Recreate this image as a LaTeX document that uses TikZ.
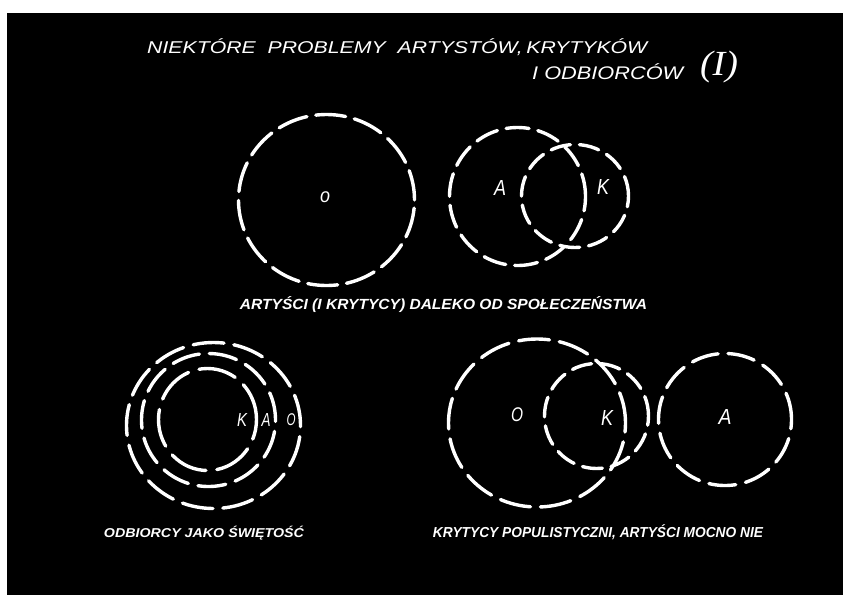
\documentclass[tikz,border=0pt]{standalone}
\usepackage{fontspec}
\setmainfont{Liberation Sans}
\newfontfamily\romanhand{Liberation Serif}
\usetikzlibrary{shapes.geometric}
\tikzset{
  ring/.style={draw=white, line width=3.4pt, line cap=round, ellipse, inner sep=0pt, dash pattern=#1},
  ring/.default={on 27pt off 10pt},
  lbl/.style={text=white, inner sep=0pt},
  handtxt/.style={text=white, inner sep=0pt, font=\itshape}
}
\begin{document}
\begin{tikzpicture}[x=1pt,y=-1pt]
\useasboundingbox (0,0) rectangle (843,595);
\fill[white] (0,0) rectangle (843,595);
\fill[black] (7,12.5) rectangle (843,595);

% title
\node[handtxt, anchor=base west] (t1) at (147,53) {\resizebox*{500pt}{17pt}{\itshape NIEKTÓRE\ \ PROBLEMY\ \ ARTYSTÓW,\,KRYTYKÓW}};
\node[handtxt, anchor=base west] (t2) at (532,79) {\resizebox*{151pt}{16pt}{\itshape I ODBIORCÓW}};
\node[handtxt] (t3) at (719,67) {\resizebox*{38pt}{32pt}{\romanhand\itshape (I)}};

% top left
\node[ring={on 30pt off 9pt}, minimum width=176pt, minimum height=171pt] (oTop) at (326.5,200) {};
\node[lbl] (oTopL) at (325,197) {\resizebox*{10pt}{11pt}{\itshape o}};

% top right
\node[ring={on 23pt off 9pt}, minimum width=136pt, minimum height=138pt] (aTop) at (517.5,196.5) {};
\node[ring={on 20pt off 9pt}, minimum width=107pt, minimum height=103pt] (kTop) at (575,196) {};
\node[lbl] (aTopL) at (500,188) {\resizebox*{12pt}{15pt}{\itshape A}};
\node[lbl] (kTopL) at (603,187) {\resizebox*{12pt}{15pt}{\itshape K}};

\node[handtxt] (c1) at (443.5,305) {\resizebox*{407pt}{16pt}{\bfseries\itshape ARTYŚCI (I KRYTYCY) DALEKO OD SPOŁECZEŃSTWA}};

% bottom left concentric
\node[ring={on 31pt off 10pt}, minimum width=174pt, minimum height=166pt] (outerC) at (213.5,425.5) {};
\node[ring={on 28pt off 10pt}, minimum width=134pt, minimum height=133pt] (midC) at (208.5,420) {};
\node[ring={on 38pt off 11pt}, minimum width=98pt, minimum height=102pt] (innerC) at (207.5,419.5) {};
\node[lbl] (kC) at (242,420) {\resizebox*{10pt}{13pt}{\itshape K}};
\node[lbl] (aC) at (266,420) {\resizebox*{9pt}{13pt}{\itshape A}};
\node[lbl] (oC) at (291,420) {\resizebox*{9pt}{12pt}{\itshape O}};

\node[handtxt] (c2) at (204,533) {\resizebox*{200pt}{14pt}{\bfseries\itshape ODBIORCY JAKO ŚWIĘTOŚĆ}};

% bottom right
\node[ring={on 31pt off 10pt}, minimum width=177pt, minimum height=168pt] (oBot) at (537,423) {};
\node[ring={on 20pt off 9pt}, minimum width=104pt, minimum height=105pt] (kBot) at (596.5,416) {};
\node[ring={on 27pt off 10pt}, minimum width=133pt, minimum height=132pt] (aBot) at (725,419.5) {};
\node[lbl] (oBotL) at (517,415) {\resizebox*{12pt}{14pt}{\itshape O}};
\node[lbl] (kBotL) at (607,418) {\resizebox*{12pt}{15pt}{\itshape K}};
\node[lbl] (aBotL) at (725,417) {\resizebox*{13pt}{15pt}{\itshape A}};

\node[handtxt] (c3) at (598,532) {\resizebox*{330pt}{15pt}{\bfseries\itshape KRYTYCY POPULISTYCZNI, ARTYŚCI MOCNO NIE}};
\end{tikzpicture}
\end{document}
